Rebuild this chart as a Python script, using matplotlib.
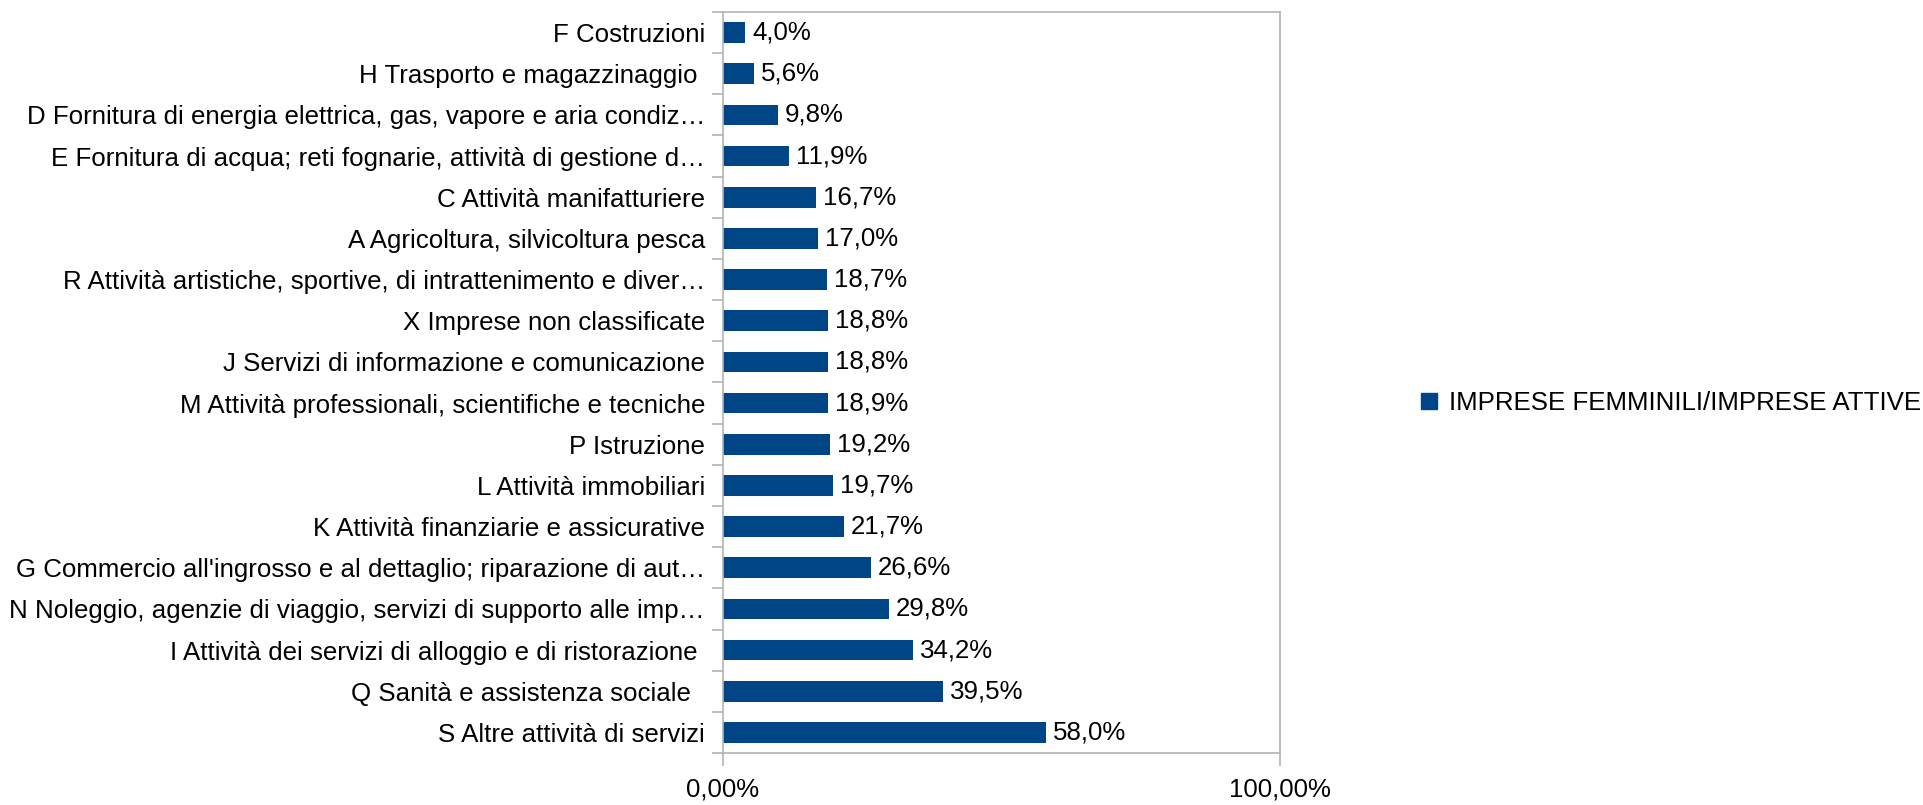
import matplotlib.pyplot as plt
import numpy as np
from matplotlib.patches import Patch

plt.rcParams['font.family'] = ['Liberation Sans', 'DejaVu Sans']

# Data (top to bottom as in the chart)
categories = [
    "F Costruzioni",
    "H Trasporto e magazzinaggio ",
    "D Fornitura di energia elettrica, gas, vapore e aria condiz…",
    "E Fornitura di acqua; reti fognarie, attività di gestione d…",
    "C Attività manifatturiere",
    "A Agricoltura, silvicoltura pesca",
    "R Attività artistiche, sportive, di intrattenimento e diver…",
    "X Imprese non classificate",
    "J Servizi di informazione e comunicazione",
    "M Attività professionali, scientifiche e tecniche",
    "P Istruzione",
    "L Attività immobiliari",
    "K Attività finanziarie e assicurative",
    "G Commercio all'ingrosso e al dettaglio; riparazione di aut…",
    "N Noleggio, agenzie di viaggio, servizi di supporto alle imp…",
    "I Attività dei servizi di alloggio e di ristorazione ",
    "Q Sanità e assistenza sociale  ",
    "S Altre attività di servizi",
]
shares = [4.0, 5.6, 9.8, 11.9, 16.7, 17.0, 18.7, 18.8, 18.8,
          18.9, 19.2, 19.7, 21.7, 26.6, 29.8, 34.2, 39.5, 58.0]
series_name = "IMPRESE FEMMINILI/IMPRESE ATTIVE"
x_ticks = [0, 100]
x_tick_labels = ["0,00%", "100,00%"]

bar_color = "#004586"
grid_color = "#b3b3b3"
font_size = 18.6

fig = plt.figure(figsize=(19.24, 8.05), dpi=100)
ax = fig.add_axes([723 / 1924, 1 - 753 / 805, 557 / 1924, 741 / 805])

y = np.arange(len(categories))
bars = ax.barh(y, shares, height=0.5, color=bar_color)
ax.bar_label(bars, labels=[f"{v:.1f}%".replace(".", ",") for v in shares],
             padding=5, fontsize=font_size)

ax.set_ylim(len(categories) - 0.5, -0.5)
ax.set_xlim(0, 100)

# Category axis: labels at centres, ticks between categories
ax.set_yticks(y)
ax.set_yticklabels(categories, fontsize=font_size)
ax.set_yticks(np.arange(len(categories) + 1) - 0.5, minor=True)
ax.tick_params(axis='y', which='major', length=0, pad=13)
ax.tick_params(axis='y', which='minor', length=8, color=grid_color, width=1.2)

# Value axis
ax.set_xticks(x_ticks)
ax.set_xticklabels(x_tick_labels, fontsize=font_size)
ax.tick_params(axis='x', which='major', length=9.5, color=grid_color,
               width=1.2, pad=8)

for side in ['left', 'right', 'top', 'bottom']:
    ax.spines[side].set_color(grid_color)
    ax.spines[side].set_linewidth(1.2)

fig.legend(handles=[Patch(color=bar_color, label=series_name)],
           loc='center left', bbox_to_anchor=(1421 / 1924, 1 - 403 / 805),
           frameon=False, fontsize=font_size, borderpad=0, borderaxespad=0,
           handlelength=0.62, handleheight=0.62, handletextpad=0.45)

fig.savefig("out.png", dpi=100)
